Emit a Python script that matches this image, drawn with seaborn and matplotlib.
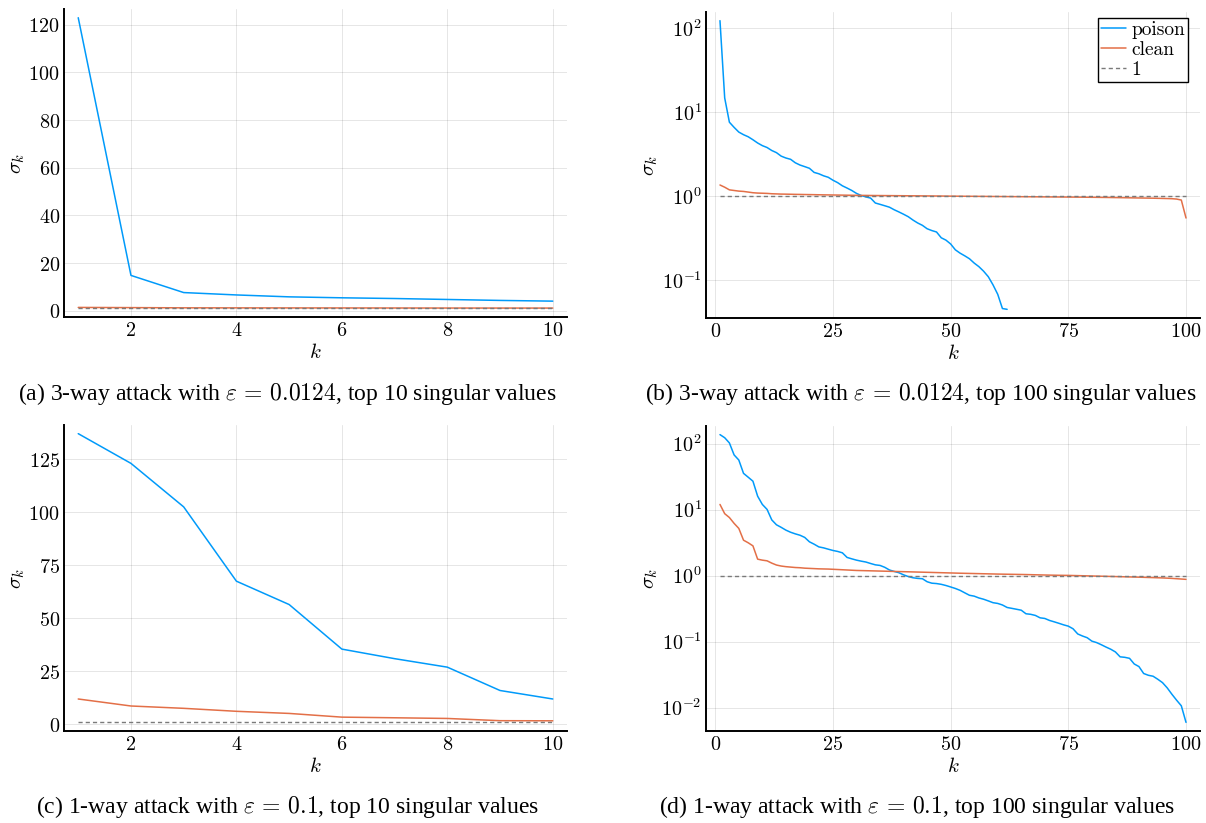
import numpy as np
import pandas as pd
import matplotlib
matplotlib.use("Agg")
import matplotlib.pyplot as plt
from matplotlib.ticker import FixedLocator, FuncFormatter
import seaborn as sns

# ---------------- data ----------------
k_values = list(range(1, 101))

poison_3way = [123, 14.8, 7.6, 6.6, 5.8, 5.4, 5.1, 4.7, 4.3, 4.0,
               3.8, 3.5, 3.3, 3.0, 2.85, 2.75, 2.5, 2.35, 2.25, 2.15,
               1.92, 1.85, 1.75, 1.68, 1.55, 1.45, 1.33, 1.25, 1.17, 1.08,
               1.02, 0.98, 0.95, 0.83, 0.80, 0.77, 0.74, 0.69, 0.65, 0.61,
               0.57, 0.52, 0.48, 0.45, 0.41, 0.39, 0.375, 0.32, 0.30, 0.27,
               0.23, 0.21, 0.195, 0.18, 0.16, 0.145, 0.128, 0.11, 0.088, 0.068,
               0.046, 0.045]

clean_3way = [1.36, 1.28, 1.19, 1.17, 1.15, 1.14, 1.12, 1.10, 1.09, 1.085,
              1.08, 1.07, 1.065, 1.06, 1.058, 1.055, 1.052, 1.05, 1.047, 1.045,
              1.043, 1.04, 1.038, 1.036, 1.034, 1.032, 1.03, 1.028, 1.026, 1.025,
              1.023, 1.022, 1.02, 1.019, 1.018, 1.017, 1.016, 1.015, 1.014, 1.013,
              1.012, 1.011, 1.01, 1.009, 1.008, 1.007, 1.006, 1.005, 1.003, 1.002,
              1.001, 1.0, 0.999, 0.998, 0.997, 0.996, 0.995, 0.994, 0.993, 0.992,
              0.991, 0.99, 0.989, 0.988, 0.987, 0.986, 0.985, 0.984, 0.983, 0.982,
              0.981, 0.98, 0.979, 0.978, 0.977, 0.976, 0.975, 0.974, 0.972, 0.971,
              0.97, 0.968, 0.967, 0.965, 0.963, 0.961, 0.959, 0.957, 0.955, 0.953,
              0.951, 0.949, 0.947, 0.944, 0.941, 0.938, 0.934, 0.925, 0.90, 0.55]

poison_1way = [137, 123, 102.5, 67.5, 56.5, 35.5, 31, 27, 16, 12,
               10.1, 7.0, 5.9, 5.4, 4.9, 4.55, 4.3, 4.1, 3.8, 3.26,
               3.0, 2.73, 2.64, 2.52, 2.41, 2.33, 2.22, 1.89, 1.80, 1.72,
               1.66, 1.61, 1.53, 1.46, 1.43, 1.34, 1.22, 1.16, 1.11, 1.03,
               0.97, 0.93, 0.91, 0.90, 0.81, 0.77, 0.76, 0.74, 0.71, 0.675,
               0.64, 0.60, 0.55, 0.505, 0.49, 0.46, 0.44, 0.415, 0.39, 0.38,
               0.36, 0.33, 0.32, 0.31, 0.30, 0.265, 0.26, 0.25, 0.23, 0.225,
               0.21, 0.20, 0.19, 0.18, 0.172, 0.157, 0.131, 0.122, 0.115, 0.102,
               0.097, 0.090, 0.083, 0.077, 0.070, 0.059, 0.058, 0.056, 0.046, 0.042,
               0.033, 0.031, 0.030, 0.027, 0.024, 0.020, 0.016, 0.013, 0.0107, 0.006]

clean_1way = [12, 8.7, 7.6, 6.2, 5.2, 3.45, 3.15, 2.83, 1.78, 1.72,
              1.68, 1.55, 1.45, 1.40, 1.37, 1.35, 1.33, 1.32, 1.30, 1.29,
              1.28, 1.27, 1.265, 1.26, 1.25, 1.24, 1.23, 1.22, 1.21, 1.20,
              1.195, 1.19, 1.185, 1.18, 1.175, 1.17, 1.165, 1.16, 1.155, 1.15,
              1.145, 1.14, 1.135, 1.13, 1.125, 1.12, 1.115, 1.11, 1.105, 1.10,
              1.095, 1.09, 1.086, 1.082, 1.078, 1.074, 1.07, 1.066, 1.062, 1.058,
              1.055, 1.052, 1.049, 1.046, 1.043, 1.04, 1.036, 1.032, 1.028, 1.024,
              1.02, 1.017, 1.014, 1.012, 1.01, 1.006, 1.002, 0.998, 0.994, 0.99,
              0.986, 0.982, 0.978, 0.974, 0.97, 0.966, 0.962, 0.958, 0.954, 0.95,
              0.945, 0.94, 0.935, 0.93, 0.925, 0.918, 0.91, 0.90, 0.89, 0.88]

reference_one = [1.0] * 100

series_names = ["poison", "clean", "1"]

captions = [
    r"(a) 3-way attack with $\varepsilon\,=\,0.0124$, top 10 singular values",
    r"(b) 3-way attack with $\varepsilon\,=\,0.0124$, top 100 singular values",
    r"(c) 1-way attack with $\varepsilon\,=\,0.1$, top 10 singular values",
    r"(d) 1-way attack with $\varepsilon\,=\,0.1$, top 100 singular values",
]

xticks_10 = [2, 4, 6, 8, 10]
xticks_100 = [0, 25, 50, 75, 100]
yticks_a = [0, 20, 40, 60, 80, 100, 120]
yticks_c = [0, 25, 50, 75, 100, 125]
yticks_b = [0.1, 1, 10, 100]
yticks_d = [0.01, 0.1, 1, 10, 100]

# ---------------- style ----------------
sns.set_theme(style="white")
plt.rcParams["mathtext.fontset"] = "cm"
plt.rcParams["font.family"] = ["DejaVu Serif"]
plt.rcParams["text.color"] = "black"
plt.rcParams["axes.labelcolor"] = "black"

BLUE = "#009AFA"
RED = "#E36F47"
GRAY = "#7a7a7a"

W, H = 1206, 823
fig = plt.figure(figsize=(W / 100, H / 100), dpi=100)


def make_ax(left, top, right, bottom):
    return fig.add_axes([left / W, 1 - bottom / H, (right - left) / W, (bottom - top) / H])


ax_a = make_ax(64, 9, 567, 317)
ax_b = make_ax(706, 12, 1200, 318)
ax_c = make_ax(64, 425, 567, 731)
ax_d = make_ax(706, 426, 1200, 731)


def draw(ax, n, poison, clean, legend=False):
    ks = k_values[:n]
    np_ = min(n, len(poison))
    sns.lineplot(x=k_values[:np_], y=poison[:np_], ax=ax, color=BLUE, linewidth=1.1,
                 label=series_names[0] if legend else None, legend=False)
    sns.lineplot(x=ks, y=clean[:n], ax=ax, color=RED, linewidth=1.1,
                 label=series_names[1] if legend else None, legend=False)
    sns.lineplot(x=ks, y=reference_one[:n], ax=ax, color=GRAY, linewidth=1.0,
                 linestyle=(0, (3.0, 2.2)),
                 label=series_names[2] if legend else None, legend=False)


def widen(lo, hi, frac=0.03):
    r = hi - lo
    return lo - frac * r, hi + frac * r


def style_ax(ax, xticks, yticks, log=False):
    ax.grid(True, color="#000000", alpha=0.1, linewidth=0.7)
    for s in ["top", "right"]:
        ax.spines[s].set_visible(False)
    for s in ["left", "bottom"]:
        ax.spines[s].set_color("black")
        ax.spines[s].set_linewidth(1.4)
    ax.xaxis.set_major_locator(FixedLocator(xticks))
    ax.yaxis.set_major_locator(FixedLocator(yticks))
    ax.xaxis.set_major_formatter(FuncFormatter(lambda v, p: r"$%d$" % int(round(v))))
    if log:
        ax.yaxis.set_major_formatter(FuncFormatter(lambda v, p: r"$10^{%d}$" % int(round(np.log10(v)))))
        ax.yaxis.set_minor_locator(FixedLocator([]))
    else:
        ax.yaxis.set_major_formatter(FuncFormatter(lambda v, p: r"$%d$" % int(round(v))))
    ax.tick_params(axis="both", which="major", direction="in", length=5, width=0.8,
                   labelsize=14.5, colors="black", pad=3)
    ax.tick_params(axis="both", which="minor", length=0)
    ax.set_xlabel(r"$k$", fontsize=15, labelpad=2)
    ax.set_ylabel(r"$\sigma_k$", fontsize=15, labelpad=1)


draw(ax_a, 10, poison_3way, clean_3way)
draw(ax_b, 100, poison_3way, clean_3way, legend=True)
draw(ax_c, 10, poison_1way, clean_1way)
draw(ax_d, 100, poison_1way, clean_1way)

# limits (3% widening like the original)
ax_a.set_xlim(*widen(1, 10))
ax_a.set_ylim(*widen(1, max(poison_3way[:10])))
ax_c.set_xlim(*widen(1, 10))
ax_c.set_ylim(*widen(1, max(poison_1way[:10])))

ax_b.set_yscale("log")
ax_d.set_yscale("log")
ax_b.set_xlim(*widen(1, 100))
ax_d.set_xlim(*widen(1, 100))
lo, hi = widen(np.log10(min(poison_3way)), np.log10(max(poison_3way)))
ax_b.set_ylim(10 ** lo, 10 ** hi)
lo, hi = widen(np.log10(min(poison_1way)), np.log10(max(poison_1way)))
ax_d.set_ylim(10 ** lo, 10 ** hi)

style_ax(ax_a, xticks_10, yticks_a)
style_ax(ax_b, xticks_100, yticks_b, log=True)
style_ax(ax_c, xticks_10, yticks_c)
style_ax(ax_d, xticks_100, yticks_d, log=True)

leg = ax_b.legend(loc="upper right", bbox_to_anchor=(1.0 - 12 / 494, 1.0 - 6 / 306),
                  frameon=True, fancybox=False, framealpha=1.0, edgecolor="black",
                  prop={"family": "cmr10", "size": 14}, handlelength=1.25,
                  handletextpad=0.3, borderpad=0.15, labelspacing=0.1, borderaxespad=0.0)
leg.get_frame().set_linewidth(1.0)

cap_font = {"family": "Liberation Serif", "size": 17, "color": "black"}
fig.text(287 / W, 1 - 394 / H, captions[0], ha="center", va="center", fontdict=cap_font)
fig.text(921 / W, 1 - 394 / H, captions[1], ha="center", va="center", fontdict=cap_font)
fig.text(287 / W, 1 - 807 / H, captions[2], ha="center", va="center", fontdict=cap_font)
fig.text(917 / W, 1 - 807 / H, captions[3], ha="center", va="center", fontdict=cap_font)

fig.savefig("out.png", dpi=100)
